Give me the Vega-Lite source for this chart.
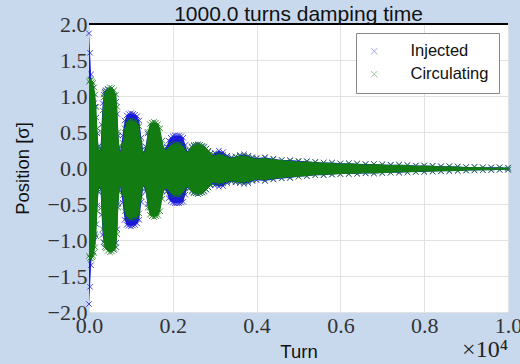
{
  "$schema": "https://vega.github.io/schema/vega-lite/v6.json",
  "width": 419,
  "height": 288,
  "autosize": {"type": "none"},
  "padding": {"left": 89, "top": 24, "right": 12, "bottom": 52},
  "background": "#c8d9ee",
  "title": {"text": "1000.0 turns damping time", "font": "Liberation Sans", "fontSize": 21, "fontWeight": "normal", "color": "#111", "anchor": "middle", "baseline": "bottom", "offset": -33},
  "config": {
    "view": {"stroke": "#999999", "strokeWidth": 1, "fill": "white"},
    "axis": {"grid": true, "gridColor": "#e2e2e2", "gridWidth": 1, "ticks": false, "domain": false, "labelFont": "Liberation Serif", "labelFontSize": 22, "labelColor": "#333", "titleFont": "Liberation Sans", "titleFontSize": 18.5, "titleFontWeight": "normal", "titleColor": "#111", "labelFlush": false, "labelOverlap": false, "labelBound": false},
    "axisX": {"tickCount": 5, "labelExpr": "format(datum.value / 10000, '.1f')", "labelPadding": 3, "titlePadding": 6},
    "axisY": {"tickCount": 8, "format": ".1f", "labelPadding": 2, "titlePadding": 15},
    "legend": {"orient": "top-right", "offset": 9, "padding": 10, "strokeColor": "#888", "fillColor": "white", "labelFont": "Liberation Sans", "labelFontSize": 16.5, "labelColor": "#111", "symbolSize": 40, "symbolStrokeWidth": 1, "labelOffset": 28, "rowPadding": 6, "symbolOpacity": 0.4, "cornerRadius": 0}
  },
  "datasets": {
    "env": [
      {"s":"Injected","t":0,"hi":1.87,"lo":-1.89},{"s":"Injected","t":25,"hi":1.6,"lo":-1.65},{"s":"Injected","t":50,"hi":1.3,"lo":-1.35},{"s":"Injected","t":75,"hi":1.1,"lo":-1.15},{"s":"Injected","t":100,"hi":0.98,"lo":-1.02},{"s":"Injected","t":125,"hi":0.9,"lo":-0.95},{"s":"Injected","t":150,"hi":0.85,"lo":-0.92},{"s":"Injected","t":175,"hi":0.7,"lo":-0.78},{"s":"Injected","t":200,"hi":0.48,"lo":-0.52},{"s":"Injected","t":225,"hi":0.3,"lo":-0.33},{"s":"Injected","t":250,"hi":0.24,"lo":-0.27},{"s":"Injected","t":275,"hi":0.28,"lo":-0.3},{"s":"Injected","t":300,"hi":0.6,"lo":-0.65},{"s":"Injected","t":325,"hi":0.9,"lo":-0.93},{"s":"Injected","t":350,"hi":1.02,"lo":-1.03},{"s":"Injected","t":375,"hi":1.06,"lo":-1.05},{"s":"Injected","t":400,"hi":1.08,"lo":-1.06},{"s":"Injected","t":450,"hi":1.09,"lo":-1.08},{"s":"Injected","t":500,"hi":1.08,"lo":-1.1},{"s":"Injected","t":550,"hi":1.04,"lo":-1.12},{"s":"Injected","t":600,"hi":1.0,"lo":-1.12},{"s":"Injected","t":650,"hi":0.92,"lo":-1.04},{"s":"Injected","t":675,"hi":0.75,"lo":-0.85},{"s":"Injected","t":700,"hi":0.45,"lo":-0.5},{"s":"Injected","t":725,"hi":0.28,"lo":-0.31},{"s":"Injected","t":750,"hi":0.24,"lo":-0.27},{"s":"Injected","t":800,"hi":0.45,"lo":-0.48},{"s":"Injected","t":850,"hi":0.66,"lo":-0.72},{"s":"Injected","t":900,"hi":0.73,"lo":-0.79},{"s":"Injected","t":950,"hi":0.75,"lo":-0.8},{"s":"Injected","t":1000,"hi":0.76,"lo":-0.81},{"s":"Injected","t":1050,"hi":0.75,"lo":-0.8},{"s":"Injected","t":1100,"hi":0.74,"lo":-0.79},{"s":"Injected","t":1150,"hi":0.72,"lo":-0.77},{"s":"Injected","t":1200,"hi":0.66,"lo":-0.72},{"s":"Injected","t":1250,"hi":0.42,"lo":-0.47},{"s":"Injected","t":1300,"hi":0.22,"lo":-0.25},{"s":"Injected","t":1350,"hi":0.3,"lo":-0.33},{"s":"Injected","t":1400,"hi":0.48,"lo":-0.5},{"s":"Injected","t":1450,"hi":0.5,"lo":-0.55},{"s":"Injected","t":1500,"hi":0.45,"lo":-0.5},{"s":"Injected","t":1550,"hi":0.42,"lo":-0.47},{"s":"Injected","t":1600,"hi":0.4,"lo":-0.45},{"s":"Injected","t":1650,"hi":0.38,"lo":-0.42},{"s":"Injected","t":1700,"hi":0.33,"lo":-0.38},{"s":"Injected","t":1750,"hi":0.28,"lo":-0.32},{"s":"Injected","t":1800,"hi":0.25,"lo":-0.28},{"s":"Injected","t":1850,"hi":0.3,"lo":-0.33},{"s":"Injected","t":1900,"hi":0.38,"lo":-0.42},{"s":"Injected","t":1950,"hi":0.42,"lo":-0.46},{"s":"Injected","t":2000,"hi":0.44,"lo":-0.48},{"s":"Injected","t":2050,"hi":0.45,"lo":-0.49},{"s":"Injected","t":2100,"hi":0.45,"lo":-0.49},{"s":"Injected","t":2150,"hi":0.45,"lo":-0.49},{"s":"Injected","t":2200,"hi":0.44,"lo":-0.48},{"s":"Injected","t":2250,"hi":0.42,"lo":-0.47},{"s":"Injected","t":2300,"hi":0.32,"lo":-0.37},{"s":"Injected","t":2350,"hi":0.23,"lo":-0.27},{"s":"Injected","t":2400,"hi":0.24,"lo":-0.27},{"s":"Injected","t":2450,"hi":0.29,"lo":-0.32},{"s":"Injected","t":2500,"hi":0.31,"lo":-0.34},{"s":"Injected","t":2550,"hi":0.32,"lo":-0.35},{"s":"Injected","t":2600,"hi":0.32,"lo":-0.36},{"s":"Injected","t":2650,"hi":0.32,"lo":-0.35},{"s":"Injected","t":2700,"hi":0.3,"lo":-0.34},{"s":"Injected","t":2750,"hi":0.29,"lo":-0.32},{"s":"Injected","t":2800,"hi":0.27,"lo":-0.3},{"s":"Injected","t":2850,"hi":0.23,"lo":-0.27},{"s":"Injected","t":2900,"hi":0.2,"lo":-0.24},{"s":"Injected","t":2950,"hi":0.18,"lo":-0.22},{"s":"Injected","t":3000,"hi":0.21,"lo":-0.24},{"s":"Injected","t":3100,"hi":0.24,"lo":-0.26},{"s":"Injected","t":3200,"hi":0.22,"lo":-0.25},{"s":"Injected","t":3300,"hi":0.17,"lo":-0.21},{"s":"Injected","t":3400,"hi":0.15,"lo":-0.19},{"s":"Injected","t":3500,"hi":0.16,"lo":-0.2},{"s":"Injected","t":3600,"hi":0.18,"lo":-0.21},{"s":"Injected","t":3700,"hi":0.19,"lo":-0.22},{"s":"Injected","t":3800,"hi":0.17,"lo":-0.21},{"s":"Injected","t":3900,"hi":0.15,"lo":-0.18},{"s":"Injected","t":4000,"hi":0.14,"lo":-0.17},{"s":"Injected","t":4200,"hi":0.15,"lo":-0.18},{"s":"Injected","t":4400,"hi":0.13,"lo":-0.16},{"s":"Injected","t":4600,"hi":0.11,"lo":-0.145},{"s":"Injected","t":4800,"hi":0.11,"lo":-0.14},{"s":"Injected","t":5000,"hi":0.1,"lo":-0.12},{"s":"Injected","t":5200,"hi":0.095,"lo":-0.115},{"s":"Injected","t":5400,"hi":0.085,"lo":-0.1},{"s":"Injected","t":5600,"hi":0.075,"lo":-0.1},{"s":"Injected","t":5800,"hi":0.075,"lo":-0.09},{"s":"Injected","t":6000,"hi":0.065,"lo":-0.085},{"s":"Injected","t":6200,"hi":0.065,"lo":-0.085},{"s":"Injected","t":6400,"hi":0.06,"lo":-0.08},{"s":"Injected","t":6600,"hi":0.055,"lo":-0.075},{"s":"Injected","t":6800,"hi":0.055,"lo":-0.075},{"s":"Injected","t":7000,"hi":0.05,"lo":-0.07},{"s":"Injected","t":7200,"hi":0.045,"lo":-0.065},{"s":"Injected","t":7400,"hi":0.045,"lo":-0.065},{"s":"Injected","t":7600,"hi":0.04,"lo":-0.06},{"s":"Injected","t":7800,"hi":0.035,"lo":-0.055},{"s":"Injected","t":8000,"hi":0.035,"lo":-0.055},{"s":"Injected","t":8200,"hi":0.03,"lo":-0.05},{"s":"Injected","t":8400,"hi":0.025,"lo":-0.045},{"s":"Injected","t":8600,"hi":0.025,"lo":-0.045},{"s":"Injected","t":8800,"hi":0.02,"lo":-0.04},{"s":"Injected","t":9000,"hi":0.015,"lo":-0.035},{"s":"Injected","t":9200,"hi":0.015,"lo":-0.035},{"s":"Injected","t":9400,"hi":0.01,"lo":-0.03},{"s":"Injected","t":9600,"hi":0.01,"lo":-0.03},{"s":"Injected","t":9800,"hi":0.01,"lo":-0.025},{"s":"Injected","t":10000,"hi":0.005,"lo":-0.025},
      {"s":"Circulating","t":0,"hi":1.2,"lo":-1.22},{"s":"Circulating","t":25,"hi":1.22,"lo":-1.25},{"s":"Circulating","t":50,"hi":1.22,"lo":-1.26},{"s":"Circulating","t":75,"hi":1.2,"lo":-1.24},{"s":"Circulating","t":100,"hi":1.18,"lo":-1.22},{"s":"Circulating","t":125,"hi":1.12,"lo":-1.18},{"s":"Circulating","t":150,"hi":1.02,"lo":-1.1},{"s":"Circulating","t":175,"hi":0.85,"lo":-0.95},{"s":"Circulating","t":200,"hi":0.55,"lo":-0.6},{"s":"Circulating","t":225,"hi":0.3,"lo":-0.33},{"s":"Circulating","t":250,"hi":0.22,"lo":-0.25},{"s":"Circulating","t":275,"hi":0.25,"lo":-0.27},{"s":"Circulating","t":300,"hi":0.5,"lo":-0.55},{"s":"Circulating","t":325,"hi":0.8,"lo":-0.85},{"s":"Circulating","t":350,"hi":0.98,"lo":-1.03},{"s":"Circulating","t":375,"hi":1.04,"lo":-1.1},{"s":"Circulating","t":400,"hi":1.07,"lo":-1.12},{"s":"Circulating","t":450,"hi":1.1,"lo":-1.15},{"s":"Circulating","t":500,"hi":1.12,"lo":-1.17},{"s":"Circulating","t":550,"hi":1.11,"lo":-1.16},{"s":"Circulating","t":600,"hi":1.08,"lo":-1.14},{"s":"Circulating","t":650,"hi":1.02,"lo":-1.1},{"s":"Circulating","t":675,"hi":0.85,"lo":-0.92},{"s":"Circulating","t":700,"hi":0.5,"lo":-0.55},{"s":"Circulating","t":725,"hi":0.3,"lo":-0.33},{"s":"Circulating","t":750,"hi":0.22,"lo":-0.25},{"s":"Circulating","t":800,"hi":0.35,"lo":-0.38},{"s":"Circulating","t":850,"hi":0.55,"lo":-0.6},{"s":"Circulating","t":900,"hi":0.63,"lo":-0.67},{"s":"Circulating","t":950,"hi":0.65,"lo":-0.69},{"s":"Circulating","t":1000,"hi":0.66,"lo":-0.7},{"s":"Circulating","t":1050,"hi":0.65,"lo":-0.69},{"s":"Circulating","t":1100,"hi":0.64,"lo":-0.68},{"s":"Circulating","t":1150,"hi":0.63,"lo":-0.68},{"s":"Circulating","t":1200,"hi":0.58,"lo":-0.63},{"s":"Circulating","t":1250,"hi":0.35,"lo":-0.4},{"s":"Circulating","t":1300,"hi":0.2,"lo":-0.23},{"s":"Circulating","t":1350,"hi":0.25,"lo":-0.28},{"s":"Circulating","t":1400,"hi":0.5,"lo":-0.55},{"s":"Circulating","t":1450,"hi":0.61,"lo":-0.65},{"s":"Circulating","t":1500,"hi":0.63,"lo":-0.67},{"s":"Circulating","t":1550,"hi":0.64,"lo":-0.68},{"s":"Circulating","t":1600,"hi":0.63,"lo":-0.67},{"s":"Circulating","t":1650,"hi":0.61,"lo":-0.66},{"s":"Circulating","t":1700,"hi":0.55,"lo":-0.6},{"s":"Circulating","t":1750,"hi":0.38,"lo":-0.43},{"s":"Circulating","t":1800,"hi":0.26,"lo":-0.29},{"s":"Circulating","t":1850,"hi":0.25,"lo":-0.28},{"s":"Circulating","t":1900,"hi":0.28,"lo":-0.31},{"s":"Circulating","t":1950,"hi":0.31,"lo":-0.34},{"s":"Circulating","t":2000,"hi":0.32,"lo":-0.36},{"s":"Circulating","t":2050,"hi":0.33,"lo":-0.37},{"s":"Circulating","t":2100,"hi":0.33,"lo":-0.37},{"s":"Circulating","t":2150,"hi":0.33,"lo":-0.37},{"s":"Circulating","t":2200,"hi":0.32,"lo":-0.36},{"s":"Circulating","t":2250,"hi":0.29,"lo":-0.33},{"s":"Circulating","t":2300,"hi":0.24,"lo":-0.28},{"s":"Circulating","t":2350,"hi":0.21,"lo":-0.25},{"s":"Circulating","t":2400,"hi":0.25,"lo":-0.28},{"s":"Circulating","t":2450,"hi":0.3,"lo":-0.33},{"s":"Circulating","t":2500,"hi":0.32,"lo":-0.35},{"s":"Circulating","t":2550,"hi":0.32,"lo":-0.35},{"s":"Circulating","t":2600,"hi":0.33,"lo":-0.36},{"s":"Circulating","t":2650,"hi":0.32,"lo":-0.35},{"s":"Circulating","t":2700,"hi":0.31,"lo":-0.34},{"s":"Circulating","t":2750,"hi":0.3,"lo":-0.33},{"s":"Circulating","t":2800,"hi":0.27,"lo":-0.3},{"s":"Circulating","t":2850,"hi":0.24,"lo":-0.27},{"s":"Circulating","t":2900,"hi":0.2,"lo":-0.23},{"s":"Circulating","t":2950,"hi":0.17,"lo":-0.2},{"s":"Circulating","t":3000,"hi":0.17,"lo":-0.2},{"s":"Circulating","t":3100,"hi":0.19,"lo":-0.22},{"s":"Circulating","t":3200,"hi":0.18,"lo":-0.21},{"s":"Circulating","t":3300,"hi":0.15,"lo":-0.19},{"s":"Circulating","t":3400,"hi":0.14,"lo":-0.18},{"s":"Circulating","t":3500,"hi":0.16,"lo":-0.19},{"s":"Circulating","t":3600,"hi":0.17,"lo":-0.2},{"s":"Circulating","t":3700,"hi":0.17,"lo":-0.2},{"s":"Circulating","t":3800,"hi":0.16,"lo":-0.19},{"s":"Circulating","t":3900,"hi":0.14,"lo":-0.17},{"s":"Circulating","t":4000,"hi":0.13,"lo":-0.16},{"s":"Circulating","t":4200,"hi":0.14,"lo":-0.17},{"s":"Circulating","t":4400,"hi":0.12,"lo":-0.15},{"s":"Circulating","t":4600,"hi":0.11,"lo":-0.14},{"s":"Circulating","t":4800,"hi":0.1,"lo":-0.13},{"s":"Circulating","t":5000,"hi":0.09,"lo":-0.12},{"s":"Circulating","t":5200,"hi":0.09,"lo":-0.11},{"s":"Circulating","t":5400,"hi":0.08,"lo":-0.1},{"s":"Circulating","t":5600,"hi":0.075,"lo":-0.095},{"s":"Circulating","t":5800,"hi":0.07,"lo":-0.09},{"s":"Circulating","t":6000,"hi":0.06,"lo":-0.085},{"s":"Circulating","t":6200,"hi":0.065,"lo":-0.08},{"s":"Circulating","t":6400,"hi":0.06,"lo":-0.08},{"s":"Circulating","t":6600,"hi":0.05,"lo":-0.07},{"s":"Circulating","t":6800,"hi":0.055,"lo":-0.075},{"s":"Circulating","t":7000,"hi":0.05,"lo":-0.07},{"s":"Circulating","t":7200,"hi":0.04,"lo":-0.065},{"s":"Circulating","t":7400,"hi":0.045,"lo":-0.06},{"s":"Circulating","t":7600,"hi":0.04,"lo":-0.06},{"s":"Circulating","t":7800,"hi":0.03,"lo":-0.055},{"s":"Circulating","t":8000,"hi":0.035,"lo":-0.05},{"s":"Circulating","t":8200,"hi":0.03,"lo":-0.05},{"s":"Circulating","t":8400,"hi":0.02,"lo":-0.045},{"s":"Circulating","t":8600,"hi":0.025,"lo":-0.04},{"s":"Circulating","t":8800,"hi":0.02,"lo":-0.04},{"s":"Circulating","t":9000,"hi":0.01,"lo":-0.035},{"s":"Circulating","t":9200,"hi":0.015,"lo":-0.03},{"s":"Circulating","t":9400,"hi":0.01,"lo":-0.03},{"s":"Circulating","t":9600,"hi":0.005,"lo":-0.025},{"s":"Circulating","t":9800,"hi":0.01,"lo":-0.025},{"s":"Circulating","t":10000,"hi":0.0,"lo":-0.02}
    ]
  },
  "layer": [
    {
      "data": {"name": "env"},
      "transform": [{"filter": "datum.s == 'Injected'"}],
      "mark": {"type": "area", "color": "#1a1ad8"},
      "encoding": {
        "x": {"field": "t", "type": "quantitative", "title": "Turn", "scale": {"domain": [0, 10000], "nice": false, "zero": false}, "axis": {"title": "Turn"}},
        "y": {"field": "hi", "type": "quantitative", "title": "Position [σ]", "scale": {"domain": [-2, 2], "nice": false, "zero": false}, "axis": {"title": "Position [σ]"}},
        "y2": {"field": "lo"}
      }
    },
    {
      "data": {"name": "env"},
      "transform": [{"filter": "datum.s == 'Injected'"}, {"fold": ["hi", "lo"], "as": ["k", "v"]}],
      "mark": {"type": "point", "shape": "M-1,-1L1,1M-1,1L1,-1", "filled": false, "size": 30, "strokeWidth": 1, "opacity": 0.8},
      "encoding": {
        "x": {"field": "t", "type": "quantitative", "title": "Turn"},
        "y": {"field": "v", "type": "quantitative", "title": "Position [σ]"},
        "color": {"field": "s", "type": "nominal", "scale": {"domain": ["Injected", "Circulating"], "range": ["#1a1ad8", "#127c12"]}, "legend": {"title": null, "symbolType": "M-1,-1L1,1M-1,1L1,-1"}}
      }
    },
    {
      "data": {"name": "env"},
      "transform": [{"filter": "datum.s == 'Circulating'"}],
      "mark": {"type": "area", "color": "#127c12"},
      "encoding": {
        "x": {"field": "t", "type": "quantitative", "title": "Turn"},
        "y": {"field": "hi", "type": "quantitative", "title": "Position [σ]"},
        "y2": {"field": "lo"}
      }
    },
    {
      "data": {"name": "env"},
      "transform": [{"filter": "datum.s == 'Circulating'"}, {"fold": ["hi", "lo"], "as": ["k", "v"]}],
      "mark": {"type": "point", "shape": "M-1,-1L1,1M-1,1L1,-1", "filled": false, "size": 30, "strokeWidth": 1, "opacity": 0.8},
      "encoding": {
        "x": {"field": "t", "type": "quantitative", "title": "Turn"},
        "y": {"field": "v", "type": "quantitative", "title": "Position [σ]"},
        "color": {"field": "s", "type": "nominal", "legend": {"title": null, "symbolType": "M-1,-1L1,1M-1,1L1,-1"}}
      }
    },
    {
      "data": {"values": [{"top": 2}]},
      "mark": {"type": "rule", "color": "black", "strokeWidth": 2},
      "encoding": {"y": {"field": "top", "type": "quantitative", "title": "Position [σ]"}}
    },
    {
      "data": {"values": [{"tx": 10000, "ty": -2, "label": "×10⁴"}]},
      "mark": {"type": "text", "align": "right", "baseline": "middle", "dy": 38, "font": "Liberation Serif", "fontSize": 24, "color": "#222"},
      "encoding": {
        "x": {"field": "tx", "type": "quantitative", "title": "Turn"},
        "y": {"field": "ty", "type": "quantitative", "title": "Position [σ]"},
        "text": {"field": "label"}
      }
    }
  ]
}
